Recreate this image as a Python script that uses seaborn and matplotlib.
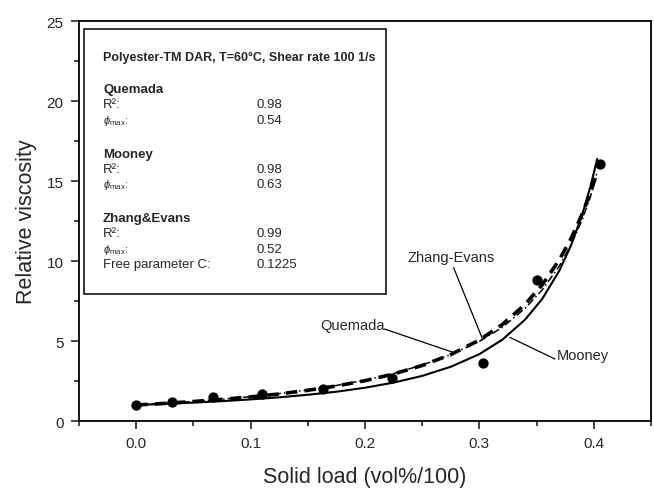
#!/usr/bin/env python3
import numpy as np
import pandas as pd
import matplotlib
matplotlib.use("Agg")
import matplotlib.pyplot as plt
import seaborn as sns
from matplotlib.ticker import MultipleLocator

sns.set_style("ticks")
plt.rcParams["font.family"] = ["Liberation Sans", "DejaVu Sans"]
plt.rcParams["mathtext.fontset"] = "custom"
plt.rcParams["mathtext.rm"] = "Liberation Sans"
plt.rcParams["mathtext.it"] = "Liberation Sans:italic"

# measured data (solid load, relative viscosity)
phi_meas = [0.0, 0.031, 0.067, 0.110, 0.163, 0.224, 0.303, 0.350, 0.405]
eta_meas = [1.00, 1.20, 1.48, 1.69, 2.00, 2.67, 3.60, 8.80, 16.06]

# model curves
phi_fit = [0.0, 0.025, 0.05, 0.075, 0.1, 0.125, 0.15, 0.175, 0.2, 0.225, 0.25,
           0.275, 0.3, 0.32, 0.34, 0.355, 0.37, 0.38, 0.39, 0.397, 0.403]
eta_mooney = [1.00, 1.07, 1.15, 1.24, 1.35, 1.48, 1.64, 1.83, 2.08, 2.40, 2.82,
              3.39, 4.18, 5.08, 6.34, 7.64, 9.41, 10.96, 12.92, 14.64, 16.38]
eta_quemada = [1.00, 1.10, 1.22, 1.35, 1.51, 1.69, 1.92, 2.19, 2.52, 2.94, 3.47,
               4.15, 5.06, 6.03, 7.29, 8.52, 10.09, 11.39, 12.96, 14.26, 15.54]
eta_zhang = [1.00, 1.10, 1.22, 1.36, 1.52, 1.71, 1.94, 2.22, 2.55, 2.97, 3.50,
             4.15, 4.98, 5.85, 7.05, 8.20, 9.70, 11.00, 12.60, 14.00, 15.60]

# fit summary shown in the inset box
models = ["Quemada", "Mooney", "Zhang&Evans"]
r2_vals = ["0.98", "0.98", "0.99"]
phimax_vals = ["0.54", "0.63", "0.52"]
free_c = "0.1225"

fig = plt.figure(figsize=(6.54, 4.89), dpi=100)
ax = fig.add_axes([0.1208, 0.137, 0.8746, 0.818])

fit_df = pd.DataFrame({"phi": phi_fit, "Mooney": eta_mooney,
                       "Quemada": eta_quemada, "Zhang-Evans": eta_zhang})
sns.lineplot(data=fit_df, x="phi", y="Mooney", color="black", lw=1.5, ax=ax)
sns.lineplot(data=fit_df, x="phi", y="Zhang-Evans", color="black", lw=1.1,
             ax=ax, linestyle=(0, (5, 2, 1, 2)))
sns.lineplot(data=fit_df, x="phi", y="Quemada", color="black", lw=2.6,
             ax=ax, linestyle=(0, (3.2, 2.0)))
sns.scatterplot(x=phi_meas, y=eta_meas, color="black", s=55,
                edgecolor="black", linewidth=0, zorder=5, ax=ax)

ax.set_xlim(-0.05, 0.45)
ax.set_ylim(0, 25)
ax.xaxis.set_major_locator(MultipleLocator(0.1))
ax.xaxis.set_minor_locator(MultipleLocator(0.05))
ax.yaxis.set_major_locator(MultipleLocator(5))
ax.yaxis.set_minor_locator(MultipleLocator(2.5))
ax.xaxis.set_major_formatter(plt.FuncFormatter(lambda v, p: f"{v:.1f}"))
ax.tick_params(which="major", direction="out", length=6, width=1.2,
               labelsize=11, pad=5)
ax.tick_params(which="minor", direction="out", length=3.5, width=1.2)
for s in ax.spines.values():
    s.set_linewidth(1.3)
    s.set_color("black")

ax.set_xlabel("Solid load (vol%/100)", fontsize=15.5, labelpad=11)
ax.set_ylabel("Relative viscosity", fontsize=15.5, labelpad=7)

# curve labels with leader lines
line_kw = dict(arrowstyle="-", color="black", lw=0.9, shrinkA=0, shrinkB=0)
ax.text(0.275, 10.25, "Zhang-Evans", ha="center", va="center", fontsize=10.5)
ax.annotate("", xy=(0.303, 5.08), xytext=(0.2775, 9.58), arrowprops=line_kw)
ax.text(0.217, 6.0, "Quemada", ha="right", va="center", fontsize=10.5)
ax.annotate("", xy=(0.277, 4.29), xytext=(0.217, 5.75), arrowprops=line_kw)
ax.text(0.3675, 4.1, "Mooney", ha="left", va="center", fontsize=10.5)
ax.annotate("", xy=(0.3266, 5.23), xytext=(0.366, 3.875), arrowprops=line_kw)

# inset box with fit results
box = plt.Rectangle((0.0087, 0.3175), 0.5283, 0.6625, transform=ax.transAxes,
                    fill=False, edgecolor="black", lw=1.1, zorder=4)
ax.add_patch(box)
tx, vx = 0.042, 0.311
fs = 9.5
ax.text(tx, 0.91, "Polyester-TM DAR, T=60°C, Shear rate 100 1/s",
        transform=ax.transAxes, fontsize=9, fontweight="bold", va="center")
rows = [0.83, 0.66875, 0.5075]
step = 0.0385
for name, r2, pm, y0 in zip(models, r2_vals, phimax_vals, rows):
    ax.text(tx, y0, name, transform=ax.transAxes, fontsize=fs,
            fontweight="bold", va="center")
    ax.text(tx, y0 - step, "R²:", transform=ax.transAxes, fontsize=fs,
            va="center")
    ax.text(vx, y0 - step, r2, transform=ax.transAxes, fontsize=fs,
            va="center")
    ax.text(tx, y0 - 2 * step, r"$\phi_{\rm max}$:", transform=ax.transAxes,
            fontsize=fs - 1.5, va="center")
    ax.text(vx, y0 - 2 * step, pm, transform=ax.transAxes, fontsize=fs,
            va="center")
ax.text(tx, 0.5075 - 3 * step, "Free parameter C:", transform=ax.transAxes,
        fontsize=fs, va="center")
ax.text(vx, 0.5075 - 3 * step, free_c, transform=ax.transAxes, fontsize=fs,
        va="center")

fig.savefig("out.png", dpi=100)
